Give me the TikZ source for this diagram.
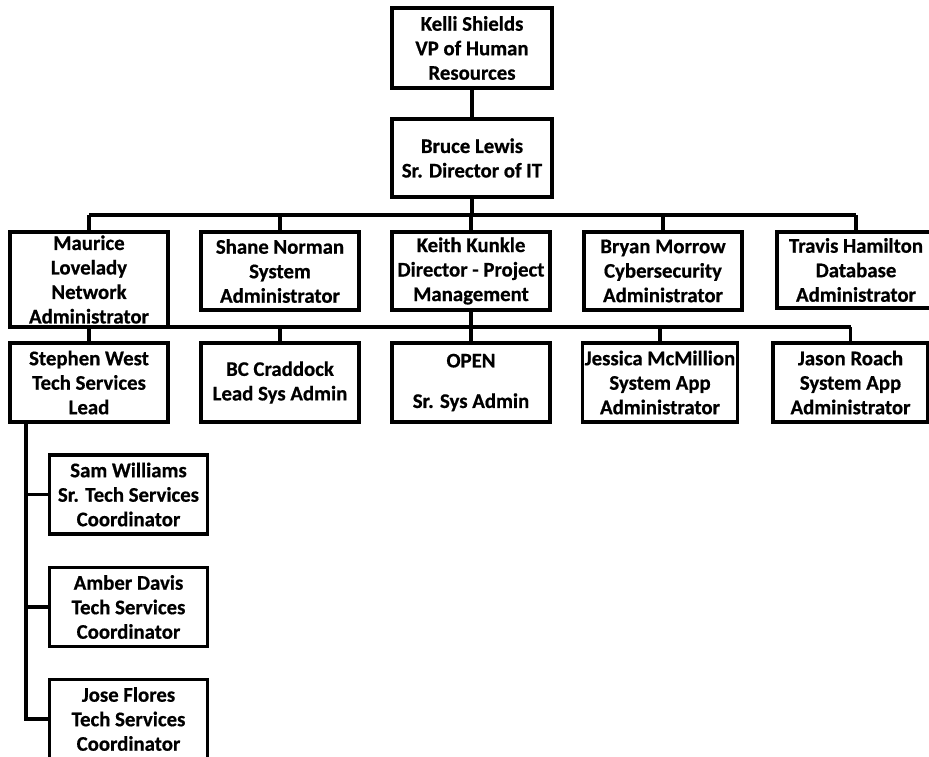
\documentclass[tikz,border=0pt]{standalone}
\usepackage{fontspec}
\setmainfont{Carlito}[BoldFeatures={FakeBold=0.6}]
\begin{document}
\begin{tikzpicture}[x=1pt,y=-1pt,
  person/.style={draw=black, line width=3.2pt, fill=white, inner sep=0pt,
    minimum width=158pt, minimum height=79pt, align=center,
    font=\fontsize{20.8}{24.5}\selectfont\bfseries},
  link/.style={draw=black, line width=3.2pt}]
\useasboundingbox (0,0) rectangle (929,757);

% levels of the chart
\coordinate (bus1) at (0,215);
\coordinate (bus2) at (0,327);
\coordinate (spine) at (26,0);

% executives
\node[person, minimum width=160pt, minimum height=80pt] (kelli) at (472,48) {Kelli Shields\\VP of Human\\Resources};
\node[person, minimum width=160pt, minimum height=78pt] (bruce) at (472,158) {Bruce Lewis\\Sr. Director of IT};

% direct reports
\node[person, minimum height=95pt] (maurice) at (89,279.5) {Maurice\\Lovelady\\Network\\Administrator};
\node[person, minimum height=78pt] (shane) at (280,271) {Shane Norman\\System\\Administrator};
\node[person, minimum height=78pt] (keith) at (471,271) {Keith Kunkle\\Director - Project\\Management};
\node[person, minimum height=78pt] (bryan) at (663,271) {Bryan Morrow\\Cybersecurity\\Administrator};
\node[person, minimum height=76pt] (travis) at (856,270) {Travis Hamilton\\Database\\Administrator};

% project management team
\node[person] (stephen) at (89,382.5) {Stephen West\\Tech Services\\Lead};
\node[person] (bc) at (280,382.5) {BC Craddock\\Lead Sys Admin};
\node[person] (open) at (471,382.5) {OPEN\\[16pt]Sr. Sys Admin};
\node[person, minimum width=155pt] (jessica) at (660,382.5) {\makebox[150pt][c]{Jessica McMillion}\\System App\\Administrator};
\node[person, minimum width=155pt] (jason) at (850.5,382.5) {Jason Roach\\System App\\Administrator};

% tech services team
\node[person] (sam) at (128.5,494.5) {Sam Williams\\Sr. Tech Services\\Coordinator};
\node[person] (amber) at (128.5,607) {Amber Davis\\Tech Services\\Coordinator};
\node[person] (jose) at (128.5,719) {Jose Flores\\Tech Services\\Coordinator};

% connectors
\draw[link] (kelli.south) -- (bruce.north);
\draw[link] (bruce.south) -- (bruce.south |- bus1);
\draw[link] (maurice.north |- bus1) -- (travis.north |- bus1);
\foreach \n in {maurice,shane,keith,bryan,travis}
  \draw[link] (\n.north |- bus1) -- (\n.north);

\draw[link] (keith.south) -- (keith.south |- bus2);
\draw[link] (stephen.north |- bus2) -- (jason.north |- bus2);
\foreach \n in {stephen,bc,open,jessica,jason}
  \draw[link] (\n.north |- bus2) -- (\n.north);

\draw[link] (stephen.south -| spine) -- (jose.west -| spine) -- (jose.west);
\foreach \n in {sam,amber}
  \draw[link] (\n.west -| spine) -- (\n.west);
\end{tikzpicture}
\end{document}
